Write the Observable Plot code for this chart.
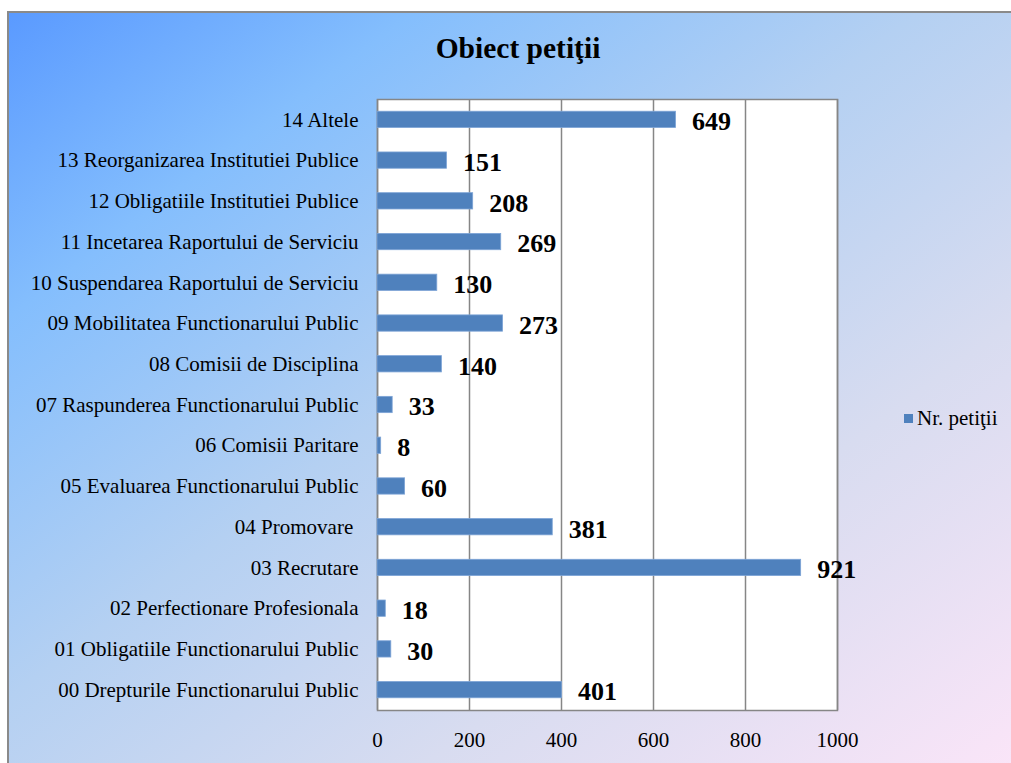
<!DOCTYPE html>
<html>
<head>
<meta charset="utf-8">
<script src="https://cdn.jsdelivr.net/npm/d3@7"></script>
<script src="https://cdn.jsdelivr.net/npm/@observablehq/plot@0.6"></script>
<style>
  html, body { margin: 0; padding: 0; background: #fff; }
  #wrap { position: relative; width: 1011px; height: 763px; overflow: hidden; font-family: "Liberation Serif", "Times New Roman", Tinos, "DejaVu Serif", serif; }
  #bg { position: absolute; left: 7px; top: 11px; width: 1010px; height: 760px;
        border-top: 2px solid #8a8a8a; border-left: 2px solid #8a8a8a;
        background: linear-gradient(to bottom right, #5a9aff 0%, #84befd 20%, #b4d0f2 45%, #d8dcf0 70%, #fbe5f8 100%); }
  #title { position: absolute; left: 0; width: 1036px; top: 32px; text-align: center; font-weight: bold; font-size: 29.5px; color: #000; }
  #legend { position: absolute; left: 904px; top: 406px; font-size: 21px; color: #000; white-space: nowrap; }
  #legend .sw { display: inline-block; width: 9px; height: 9px; background: #4F81BD; margin-right: 4px; vertical-align: 2px; }
  #chart { position: absolute; left: 0; top: 0; }
  #chart svg, #chart svg text { font-family: "Liberation Serif", "Times New Roman", Tinos, "DejaVu Serif", serif !important; }
</style>
</head>
<body>
<div id="wrap">
  <div id="bg"></div>
  <div id="title">Obiect petiţii</div>
  <div id="legend"><span class="sw"></span>Nr. petiţii</div>
  <div id="chart"></div>
</div>
<script>
const categories = [
  "00 Drepturile Functionarului Public",
  "01 Obligatiile Functionarului Public",
  "02 Perfectionare Profesionala",
  "03 Recrutare",
  "04 Promovare ",
  "05 Evaluarea Functionarului Public",
  "06 Comisii Paritare",
  "07 Raspunderea Functionarului Public",
  "08 Comisii de Disciplina",
  "09 Mobilitatea Functionarului Public",
  "10 Suspendarea Raportului de Serviciu",
  "11 Incetarea Raportului de Serviciu",
  "12 Obligatiile Institutiei Publice",
  "13 Reorganizarea Institutiei Publice",
  "14 Altele"
];
const values = [401, 30, 18, 921, 381, 60, 8, 33, 140, 273, 130, 269, 208, 151, 649];
const xTicks = [0, 200, 400, 600, 800, 1000];

const data = categories.map((c, i) => ({category: c, value: values[i]}));
const serif = "'Liberation Serif', 'Times New Roman', Tinos, 'DejaVu Serif', serif";

const chart = Plot.plot({
  width: 1011,
  height: 763,
  marginLeft: 377,
  marginRight: 174,
  marginTop: 99,
  marginBottom: 53,
  style: {background: "transparent", fontFamily: serif, fontSize: "21px", color: "#000", overflow: "visible"},
  x: {domain: [0, 1000], ticks: xTicks, tickFormat: d => String(d), tickSize: 0, tickPadding: 22, label: null},
  y: {domain: categories.slice().reverse(), paddingInner: 0.6, paddingOuter: 0.3, round: false, tickSize: 0, tickPadding: 19, label: null},
  marks: [
    Plot.frame({fill: "white", stroke: null}),
    Plot.gridX(xTicks, {stroke: "#868686", strokeOpacity: 1, strokeWidth: 1.5}),
    Plot.frame({stroke: "#868686", strokeWidth: 1.5}),
    Plot.barX(data, {x: "value", y: "category", fill: "#4F81BD", stroke: "#7da4d6", strokeWidth: 0.8}),
    Plot.text(data, {x: "value", y: "category", text: d => String(d.value), textAnchor: "start", dx: 16, dy: 2,
      fontWeight: "bold", fontSize: 26, fill: "#000", fontFamily: serif}),
    Plot.axisX({ticks: xTicks, tickFormat: d => String(d), tickSize: 0, tickPadding: 22, fontSize: 21, fontFamily: serif}),
    Plot.axisY({tickSize: 0, tickPadding: 19, fontSize: 21, fontFamily: serif})
  ]
});
document.getElementById("chart").appendChild(chart);
</script>
</body>
</html>
